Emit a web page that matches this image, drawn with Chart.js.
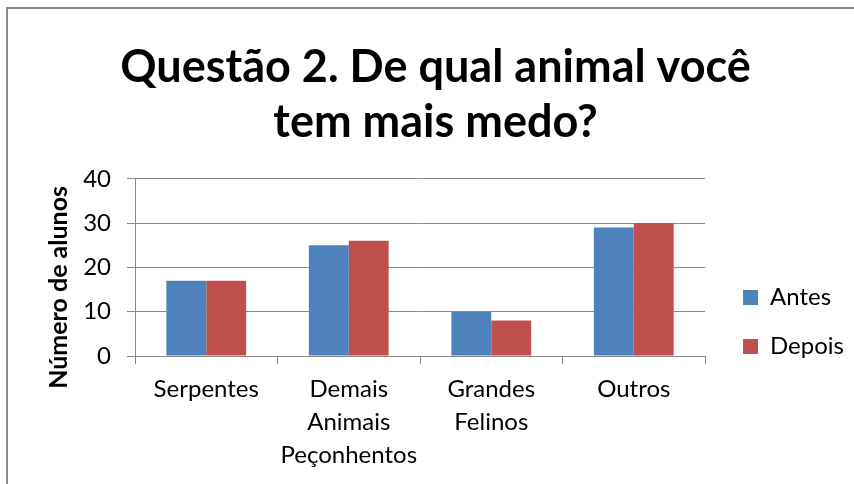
<!DOCTYPE html>
<html>
<head>
<meta charset="utf-8">
<script src="https://cdn.jsdelivr.net/npm/chart.js@4/dist/chart.umd.min.js"></script>
<style>
  html, body { margin: 0; padding: 0; background: #fff; }
  #wrap { position: relative; width: 854px; height: 484px; overflow: hidden; }
  #frame { position: absolute; left: 6px; top: 7px; width: 900px; height: 600px;
           border-left: 2px solid #8a8a8a; border-top: 2px solid #8a8a8a; box-sizing: border-box; }
  canvas { position: absolute; left: 0; top: 0; }
</style>
</head>
<body>
<div id="wrap">
  <div id="frame"></div>
  <canvas id="c" width="854" height="484"></canvas>
</div>
<script>
const titleLines = ["Questão 2. De qual animal você", "tem mais medo?"];
const categories = ["Serpentes", ["Demais", "Animais", "Peçonhentos"], ["Grandes", "Felinos"], "Outros"];
const seriesNames = ["Antes", "Depois"];
const antes = [17, 25, 10, 29];
const depois = [17, 26, 8, 30];
const yTicks = [0, 10, 20, 30, 40];
const yTitle = "Número de alunos";

const FONT = "Lato, 'Open Sans', sans-serif";

// shift the legend block to where the reference places it
const legendShift = {
  id: 'legendShift',
  afterLayout(chart) {
    const lg = chart.legend;
    if (!lg) return;
    const dx = 13, dy = 80;
    lg.left += dx; lg.right += dx; lg.top += dy; lg.bottom += dy;
  }
};

// y-axis title, placed a little below the plot centre as in the reference
const yAxisTitle = {
  id: 'yAxisTitle',
  afterDraw(chart) {
    const ctx = chart.ctx;
    const a = chart.chartArea;
    ctx.save();
    ctx.translate(59, (a.top + a.bottom) / 2 + 20);
    ctx.rotate(-Math.PI / 2);
    ctx.textAlign = 'center';
    ctx.textBaseline = 'middle';
    ctx.fillStyle = '#000';
    ctx.font = "bold 25px " + FONT;
    ctx.fillText(yTitle, 0, 0);
    ctx.restore();
  }
};

new Chart(document.getElementById('c'), {
  type: 'bar',
  data: {
    labels: categories,
    datasets: [
      { label: seriesNames[0], data: antes, backgroundColor: '#4F81BD', borderWidth: 0 },
      { label: seriesNames[1], data: depois, backgroundColor: '#C0504D', borderWidth: 0 }
    ]
  },
  plugins: [legendShift, yAxisTitle],
  options: {
    responsive: false,
    animation: false,
    devicePixelRatio: 1,
    layout: { padding: { left: 30, right: 13, top: 0, bottom: 0 } },
    datasets: { bar: { categoryPercentage: 0.56, barPercentage: 1.0 } },
    plugins: {
      tooltip: { enabled: false },
      title: {
        display: true,
        text: titleLines,
        color: '#000',
        font: { family: FONT, size: 45, weight: 'bold', lineHeight: 1.22 },
        padding: { top: 40, bottom: 29 }
      },
      legend: {
        position: 'right',
        align: 'center',
        labels: {
          color: '#000',
          font: { family: FONT, size: 24 },
          boxWidth: 15, boxHeight: 15,
          padding: 25
        }
      }
    },
    scales: {
      x: {
        grid: { display: true, drawOnChartArea: false, drawTicks: true, tickLength: 8, color: '#8a8a8a', offset: true },
        border: { display: true, color: '#8a8a8a' },
        ticks: { color: '#000', font: { family: FONT, size: 24, lineHeight: 1.375 }, maxRotation: 0, autoSkip: false, padding: 9 },
        afterFit: (s) => { s.height = 128; }
      },
      y: {
        min: 0, max: 40,
        afterBuildTicks: (s) => { s.ticks = yTicks.map(v => ({ value: v })); },
        grid: { color: '#8a8a8a', tickLength: 8 },
        border: { display: true, color: '#8a8a8a' },
        ticks: { color: '#000', font: { family: FONT, size: 24 }, padding: 16 },
        title: { display: false },
        afterFit: (s) => { s.width = 105; }
      }
    }
  }
});
</script>
</body>
</html>
